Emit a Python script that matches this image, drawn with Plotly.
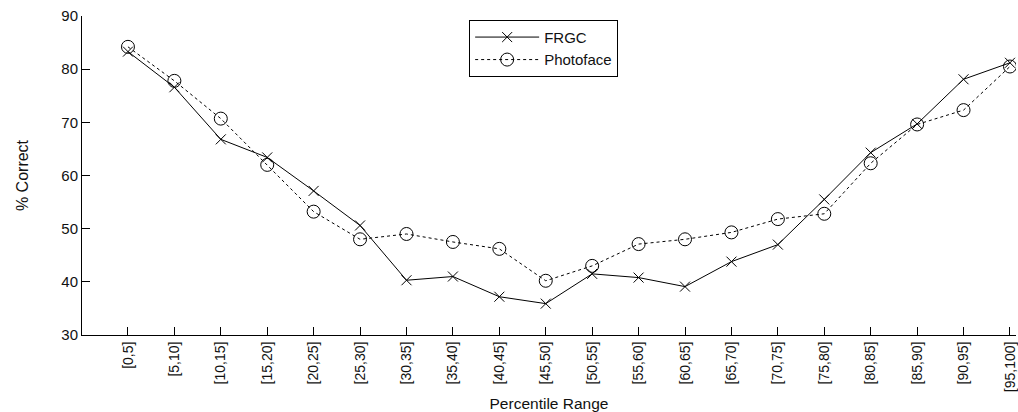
import plotly.graph_objects as go

# Percentile bins along the x axis
categories = ["[0,5]", "[5,10]", "[10,15]", "[15,20]", "[20,25]", "[25,30]",
              "[30,35]", "[35,40]", "[40,45]", "[45,50]", "[50,55]", "[55,60]",
              "[60,65]", "[65,70]", "[70,75]", "[75,80]", "[80,85]", "[85,90]",
              "[90,95]", "[95,100]"]

# % correct per bin for each dataset
frgc = [83.3, 76.6, 66.8, 63.4, 57.1, 50.6, 40.3, 41.0, 37.2, 35.9,
        41.5, 40.8, 39.1, 43.8, 47.0, 55.5, 64.3, 69.7, 78.1, 81.2]
photoface = [84.2, 77.8, 70.7, 62.0, 53.2, 48.0, 49.0, 47.5, 46.2, 40.2,
             43.0, 47.1, 48.0, 49.3, 51.8, 52.8, 62.3, 69.6, 72.3, 80.5]

y_ticks = [30, 40, 50, 60, 70, 80, 90]

FONT = "Liberation Sans, Arial, Helvetica, sans-serif"

fig = go.Figure()
fig.add_trace(go.Scatter(
    x=categories, y=frgc, name="FRGC", mode="lines+markers",
    line=dict(color="black", width=1),
    marker=dict(symbol="x-thin-open", size=10, color="black",
                line=dict(color="black", width=1)),
))
fig.add_trace(go.Scatter(
    x=categories, y=photoface, name="Photoface", mode="lines+markers",
    line=dict(color="black", width=1, dash="3px,3px"),
    marker=dict(symbol="circle-open", size=13, color="black",
                line=dict(color="black", width=1)),
))

fig.update_layout(
    width=1018, height=412,
    margin=dict(l=82, r=0, t=16, b=77),
    paper_bgcolor="white", plot_bgcolor="white",
    font=dict(family=FONT, size=14, color="#111"),
    showlegend=True,
    legend=dict(x=0.4145, y=0.988, xanchor="left", yanchor="top",
                bgcolor="white", bordercolor="black", borderwidth=1,
                font=dict(size=15), tracegroupgap=0, itemwidth=64),
    xaxis=dict(
        type="category", range=[-0.99, 19.13],
        showline=True, linecolor="black", linewidth=1,
        ticks="inside", ticklen=8, tickcolor="black", tickwidth=1,
        tickangle=-90, tickfont=dict(size=14),
        showgrid=False, zeroline=False,
        title=dict(text="Percentile Range", font=dict(size=15.5), standoff=6),
    ),
    yaxis=dict(
        range=[30, 90], tickvals=y_ticks,
        showline=True, linecolor="black", linewidth=1,
        ticks="inside", ticklen=8, tickcolor="black", tickwidth=1,
        tickfont=dict(size=15),
        showgrid=False, zeroline=False,
        title=dict(text="% Correct", font=dict(size=16), standoff=28),
    ),
)

fig.write_html("out.html")
